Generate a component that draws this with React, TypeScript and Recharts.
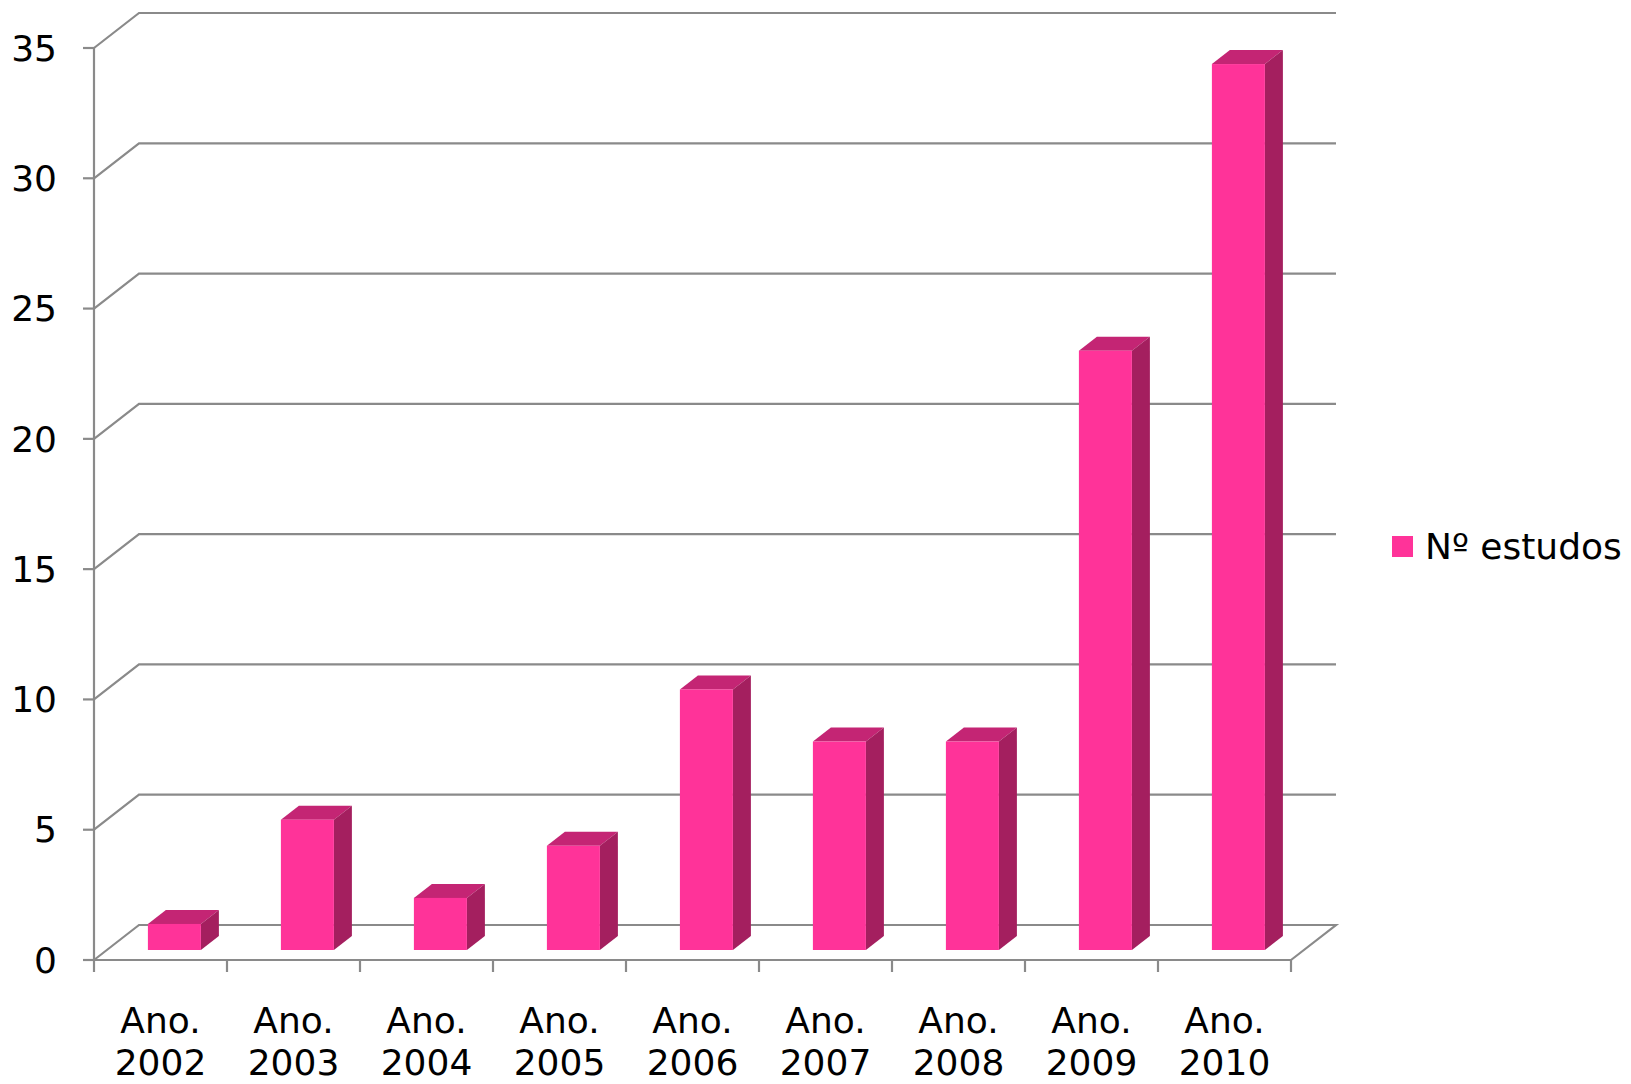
import React from "react";
import { BarChart, Bar, XAxis, YAxis, CartesianGrid, Legend } from "recharts";

// data
const anos = ["Ano. 2002", "Ano. 2003", "Ano. 2004", "Ano. 2005", "Ano. 2006", "Ano. 2007", "Ano. 2008", "Ano. 2009", "Ano. 2010"];
const estudos = [1, 5, 2, 4, 10, 8, 8, 23, 34];
const yTicks = [0, 5, 10, 15, 20, 25, 30, 35];

const data = anos.map((ano, i) => ({ ano, estudos: estudos[i] }));

const FONT = "'DejaVu Sans', Verdana, sans-serif";
const GRID = "#8A8A8A";
// back wall depth offset
const DX = 45;
const DY = -35;
// bar placement inside the depth
const BX = 14;
const BY = -10;
const BDX = 18;
const BDY = -14;

const FRONT = "#FF3399";
const TOP = "#C42574";
const SIDE = "#A41F5F";

const Bar3D = (props: any) => {
    const { x, y, width, height } = props;
    if (width == null || height == null) return null;
    const fx = x + BX;
    const fy = y + BY;
    const r = fx + width;
    const b = fy + height;
    return (
        <g>
            <path d={`M${fx},${fy} L${fx + BDX},${fy + BDY} L${r + BDX},${fy + BDY} L${r},${fy} Z`} fill={TOP} />
            <path d={`M${r},${fy} L${r + BDX},${fy + BDY} L${r + BDX},${b + BDY} L${r},${b} Z`} fill={SIDE} />
            <rect x={fx} y={fy} width={width} height={height} fill={FRONT} />
        </g>
    );
};

const gridLine = (props: any) => {
    const { x1, x2, y1, index } = props;
    const isFloor = index === 0 || Math.abs(y1 - 960) < 1;
    let d = `M${x1},${y1} L${x1 + DX},${y1 + DY} L${x2 + DX},${y1 + DY}`;
    if (isFloor) d += ` L${x2},${y1}`;
    return <path key={`g-${index}`} d={d} stroke={GRID} strokeWidth={2.2} fill="none" />;
};

const XTick = (props: any) => {
    const { x, y, payload, index, visibleTicksCount, width } = props;
    const half = payload.offset != null && payload.offset > 0 ? payload.offset : width / visibleTicksCount / 2;
    const [l1, l2] = String(payload.value).split(" ");
    return (
        <g>
            <line x1={x - half} x2={x - half} y1={y} y2={y + 12} stroke={GRID} strokeWidth={2.2} />
            {index === visibleTicksCount - 1 && (
                <line x1={x + half} x2={x + half} y1={y} y2={y + 12} stroke={GRID} strokeWidth={2.2} />
            )}
            <text x={x} y={y + 73} textAnchor="middle" fontFamily={FONT} fontSize={36} fill="#000">
                {l1}
            </text>
            <text x={x} y={y + 115} textAnchor="middle" fontFamily={FONT} fontSize={36} fill="#000">
                {l2}
            </text>
        </g>
    );
};

const LegendBox = () => (
    <div style={{ display: "flex", alignItems: "center", fontFamily: FONT, fontSize: 36, color: "#000", whiteSpace: "nowrap" }}>
        <span style={{ display: "inline-block", width: 21, height: 21, background: FRONT, marginRight: 12 }} />
        <span>Nº estudos</span>
    </div>
);

export default function App() {
    return (
        <div style={{ position: "absolute", left: 0, top: 0, background: "#fff" }}>
            <BarChart
                width={1631}
                height={1084}
                data={data}
                margin={{ top: 48, right: 340, bottom: 0, left: 0 }}
                barCategoryGap="30%"
            >
                <CartesianGrid vertical={false} horizontal={gridLine} />
                <XAxis
                    dataKey="ano"
                    height={124}
                    tickSize={0}
                    tickMargin={0}
                    tickLine={false}
                    axisLine={{ stroke: GRID, strokeWidth: 2.2 }}
                    interval={0}
                    tick={<XTick />}
                />
                <YAxis
                    width={94}
                    domain={[0, 35]}
                    ticks={yTicks}
                    interval={0}
                    tickSize={11}
                    tickMargin={26}
                    axisLine={{ stroke: GRID, strokeWidth: 2.2 }}
                    tickLine={{ stroke: GRID, strokeWidth: 2.2 }}
                    tick={{ fontFamily: FONT, fontSize: 36, fill: "#000" }}
                />
                <Legend
                    layout="horizontal"
                    align="center"
                    verticalAlign="middle"
                    content={<LegendBox />}
                    wrapperStyle={{ left: 1392, top: 526, width: "auto" }}
                />
                <Bar dataKey="estudos" name="Nº estudos" fill={FRONT} shape={<Bar3D />} isAnimationActive={false} />
            </BarChart>
        </div>
    );
}
